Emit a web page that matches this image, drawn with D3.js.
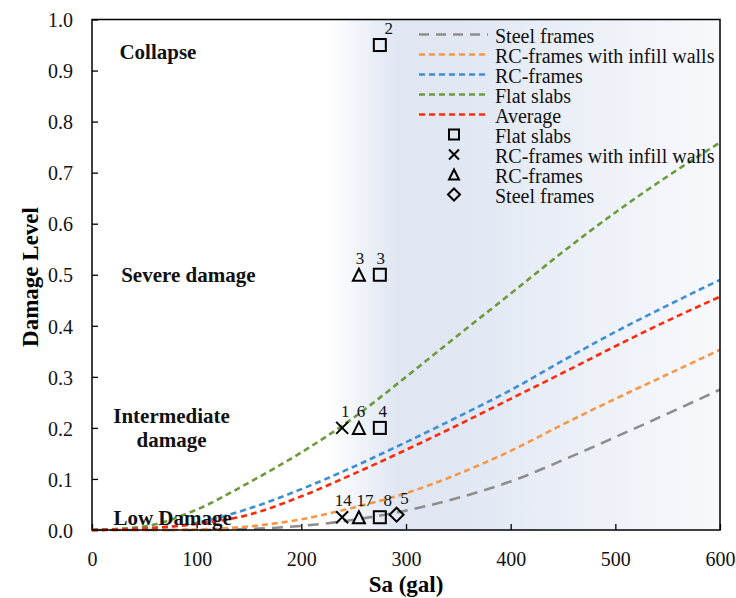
<!DOCTYPE html>
<html>
<head>
<meta charset="utf-8">
<script src="https://cdn.jsdelivr.net/npm/d3@7"></script>
<style>
  body { margin: 0; background: #fff; }
  svg { display: block; }
  text { font-family: "Liberation Serif", "Times New Roman", "DejaVu Serif", serif; }
  .tick text { font-size: 20px; fill: #111; }
  .tick line { stroke: #000; stroke-width: 1.3px; }
</style>
</head>
<body>
<svg width="736" height="598"></svg>
<script>
// fragility curves, every 50 gal
var sa = [0, 50, 100, 150, 200, 250, 300, 350, 400, 450, 500, 550, 600]
var steelFrames = [0, 0, 0, 0.002, 0.008, 0.02, 0.038, 0.063, 0.095, 0.137, 0.182, 0.228, 0.275]
var rcInfill = [0, 0, 0.001, 0.007, 0.021, 0.044, 0.072, 0.11, 0.155, 0.207, 0.257, 0.305, 0.353]
var rcFrames = [0, 0.003, 0.014, 0.042, 0.08, 0.124, 0.172, 0.222, 0.274, 0.332, 0.388, 0.44, 0.49]
var flatSlabs = [0, 0.007, 0.04, 0.093, 0.152, 0.22, 0.3, 0.382, 0.463, 0.545, 0.622, 0.693, 0.759]
var average = [0, 0.003, 0.012, 0.03, 0.066, 0.11, 0.157, 0.206, 0.257, 0.308, 0.36, 0.41, 0.457]

// observed damage (marker type, Sa, level, count label)
var observed = [
  {type: "square", sa: 275, dl: 0.95, label: "2"},
  {type: "tri", sa: 255, dl: 0.5, label: "3"},
  {type: "square", sa: 275, dl: 0.5, label: "3"},
  {type: "cross", sa: 239, dl: 0.2, label: "1"},
  {type: "tri", sa: 255, dl: 0.2, label: "6"},
  {type: "square", sa: 275, dl: 0.2, label: "4"},
  {type: "cross", sa: 239, dl: 0.025, label: "14"},
  {type: "tri", sa: 255, dl: 0.025, label: "17"},
  {type: "square", sa: 275, dl: 0.025, label: "8"},
  {type: "diamond", sa: 291, dl: 0.03, label: "5"}
]
var labelShift = [9, 1, 1, 3, 2, 3, 1, 6, 8, 8]

var xTicks = [0, 100, 200, 300, 400, 500, 600]
var yTicks = [0, 0.1, 0.2, 0.3, 0.4, 0.5, 0.6, 0.7, 0.8, 0.9, 1.0]

var zones = [
  {text: ["Collapse"], sa: 63, dl: 0.922},
  {text: ["Severe damage"], sa: 92, dl: 0.485},
  {text: ["Intermediate", "damage"], sa: 76, dl: 0.21},
  {text: ["Low Damage"], sa: 77, dl: 0.009}
]

var series = [
  {name: "Steel frames", values: steelFrames, color: "#8e8e8e", dash: "11,7"},
  {name: "RC-frames with infill walls", values: rcInfill, color: "#f79646", dash: "6,4"},
  {name: "RC-frames", values: rcFrames, color: "#3d8fd1", dash: "6,4"},
  {name: "Flat slabs", values: flatSlabs, color: "#6c9a3c", dash: "6,4"},
  {name: "Average", values: average, color: "#ff2a0a", dash: "6,4"}
]
var markerLegend = [
  {type: "square", name: "Flat slabs"},
  {type: "cross", name: "RC-frames with infill walls"},
  {type: "tri", name: "RC-frames"},
  {type: "diamond", name: "Steel frames"}
]

var serif = '"Liberation Serif", "Times New Roman", "DejaVu Serif", serif'
var svg = d3.select("svg")
var m = {left: 92, right: 720, top: 19.5, bottom: 530}

var x = d3.scaleLinear().domain([0, 600]).range([m.left, m.right])
var y = d3.scaleLinear().domain([0, 1]).range([m.bottom, m.top])

// background shading
var grad = svg.append("defs").append("linearGradient")
  .attr("id", "bg").attr("gradientUnits", "userSpaceOnUse")
  .attr("x1", m.left).attr("x2", m.right).attr("y1", 0).attr("y2", 0)
var stops = [[x(225), "#ffffff"], [x(262), "#edf1f8"], [x(290), "#e0e7f3"], [x(345), "#e0e7f3"], [x(600), "#f8f9fc"]]
stops.forEach(function(s) {
  grad.append("stop")
    .attr("offset", (s[0] - m.left) / (m.right - m.left))
    .attr("stop-color", s[1])
})
svg.append("rect")
  .attr("x", m.left).attr("y", m.top)
  .attr("width", m.right - m.left).attr("height", m.bottom - m.top)
  .attr("fill", "url(#bg)")

// axes, ticks pointing inward
var xAxis = svg.append("g")
  .attr("transform", "translate(0," + m.bottom + ")")
  .call(d3.axisBottom(x).tickValues(xTicks).tickSize(-6).tickSizeOuter(0).tickPadding(22))
var yAxis = svg.append("g")
  .attr("transform", "translate(" + m.left + ",0)")
  .call(d3.axisLeft(y).tickValues(yTicks).tickFormat(d3.format(".1f")).tickSize(-6).tickSizeOuter(0).tickPadding(19))
xAxis.attr("font-family", serif).attr("font-size", 20)
yAxis.attr("font-family", serif).attr("font-size", 20)
xAxis.select(".domain").remove()
yAxis.select(".domain").remove()
yAxis.selectAll(".tick text").attr("dy", "0.36em")

// curves
var line = d3.line()
  .x(function(d, i) { return x(sa[i]) })
  .y(function(d) { return y(d) })
  .curve(d3.curveMonotoneX)

svg.append("g").selectAll("path")
  .data(series)
  .enter().append("path")
  .attr("d", function(d) { return line(d.values) })
  .attr("fill", "none")
  .attr("stroke", function(d) { return d.color })
  .attr("stroke-width", 2.6)
  .attr("stroke-dasharray", function(d) { return d.dash })

// frame
svg.append("rect")
  .attr("x", m.left).attr("y", m.top)
  .attr("width", m.right - m.left).attr("height", m.bottom - m.top)
  .attr("fill", "none").attr("stroke", "#000").attr("stroke-width", 1.5)

// zone labels
zones.forEach(function(z) {
  var t = svg.append("text")
    .attr("x", x(z.sa)).attr("y", y(z.dl))
    .attr("text-anchor", "middle").attr("font-family", serif)
    .attr("font-weight", "bold").attr("font-size", 21).attr("fill", "#111")
  z.text.forEach(function(s, i) {
    t.append("tspan").attr("x", x(z.sa)).attr("dy", i ? 24 : 0).text(s)
  })
})

function marker(g, type, s) {
  var h = s / 2
  var p
  if (type == "square") {
    p = g.append("rect").attr("x", -h).attr("y", -h).attr("width", s).attr("height", s)
  } else if (type == "cross") {
    p = g.append("path").attr("d", "M" + (-h) + "," + (-h) + "L" + h + "," + h + "M" + (-h) + "," + h + "L" + h + "," + (-h))
  } else if (type == "tri") {
    p = g.append("path").attr("d", "M0," + (-h) + "L" + h + "," + h + "L" + (-h) + "," + h + "Z")
  } else {
    p = g.append("path").attr("d", "M0," + (-h - 1) + "L" + (h + 1) + ",0L0," + (h + 1) + "L" + (-h - 1) + ",0Z")
  }
  p.attr("fill", "none").attr("stroke", "#000").attr("stroke-width", 2)
}

// observed points
var pts = svg.append("g").selectAll("g")
  .data(observed)
  .enter().append("g")
  .attr("transform", function(d) { return "translate(" + x(d.sa) + "," + y(d.dl) + ")" })
pts.each(function(d) { marker(d3.select(this), d.type, 12) })
pts.append("text")
  .attr("x", function(d, i) { return labelShift[i] })
  .attr("y", -11)
  .attr("text-anchor", "middle").attr("font-family", serif)
  .attr("font-size", 17).attr("fill", "#111")
  .text(function(d) { return d.label })

// legend
var leg = svg.append("g").attr("transform", "translate(419,34.5)")
series.forEach(function(d, i) {
  leg.append("line")
    .attr("x1", 0).attr("x2", 69).attr("y1", i * 20).attr("y2", i * 20)
    .attr("stroke", d.color).attr("stroke-width", 2.6)
    .attr("stroke-dasharray", i == 0 ? "10,7" : "6,4")
  leg.append("text").attr("x", 76).attr("y", i * 20 + 8).attr("font-family", serif)
    .attr("font-size", 20).attr("fill", "#111").text(d.name)
})
markerLegend.forEach(function(d, i) {
  var r = (i + series.length) * 20
  marker(leg.append("g").attr("transform", "translate(35," + r + ")"), d.type, 10)
  leg.append("text").attr("x", 76).attr("y", r + 8).attr("font-family", serif)
    .attr("font-size", 20).attr("fill", "#111").text(d.name)
})

// axis titles
svg.append("text")
  .attr("x", (m.left + m.right) / 2).attr("y", 592).attr("font-family", serif)
  .attr("text-anchor", "middle").attr("font-weight", "bold").attr("font-size", 23)
  .text("Sa (gal)")
svg.append("text")
  .attr("transform", "translate(38,277) rotate(-90)").attr("font-family", serif)
  .attr("text-anchor", "middle").attr("font-weight", "bold").attr("font-size", 23)
  .text("Damage Level")
</script>
</body>
</html>
